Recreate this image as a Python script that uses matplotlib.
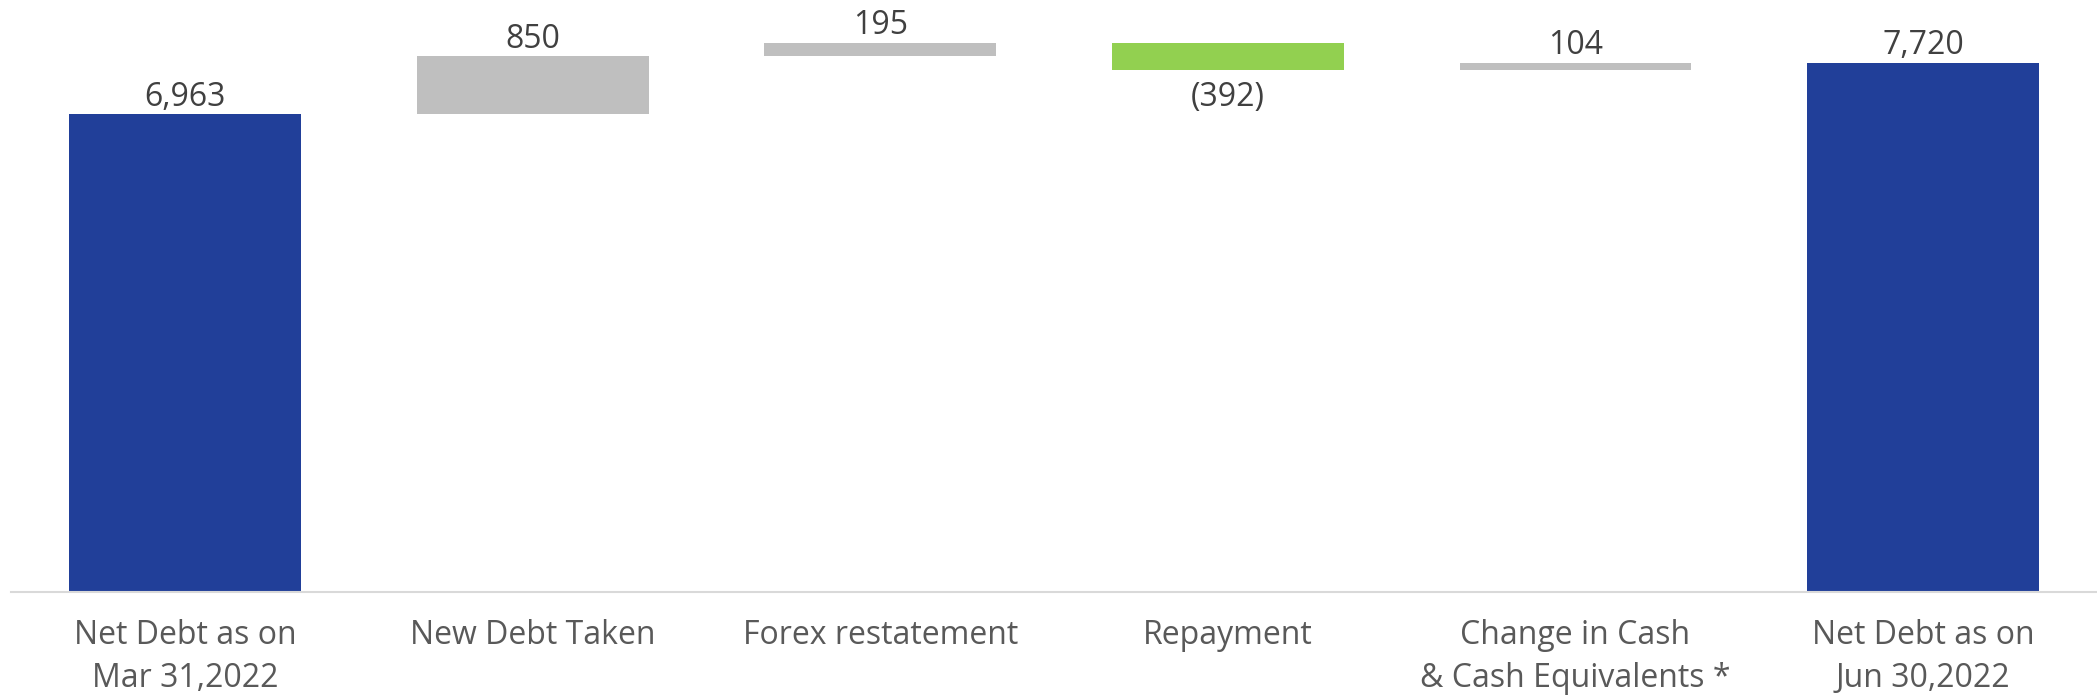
import matplotlib
matplotlib.use("Agg")
import matplotlib.pyplot as plt
import numpy as np

plt.rcParams['font.family'] = ['Open Sans', 'DejaVu Sans']

# Data
categories = ["Net Debt as on\nMar 31,2022", "New Debt Taken", "Forex restatement",
              "Repayment", "Change in Cash\n& Cash Equivalents *", "Net Debt as on\nJun 30,2022"]
opening = 6963
changes = [850, 195, -392, 104]
closing = 7720

BLUE = "#213F99"
GRAY = "#BFBFBF"
GREEN = "#92D050"

# Build waterfall bottoms/heights
heights = [opening]
bottoms = [0]
colors = [BLUE]
running = opening
for c in changes:
    if c >= 0:
        bottoms.append(running)
        heights.append(c)
        colors.append(GRAY)
    else:
        bottoms.append(running + c)
        heights.append(-c)
        colors.append(GREEN)
    running += c
heights.append(closing)
bottoms.append(0)
colors.append(BLUE)
values = [opening] + changes + [closing]

fig = plt.figure(figsize=(20.97, 7), dpi=100)
ax = fig.add_axes([11.2 / 2097, 108.3 / 700, (2097 - 11.2) / 2097, 591.7 / 700])

x = np.arange(len(categories))
ax.bar(x, heights, bottom=bottoms, width=0.667, color=colors, zorder=2)

for xi, v, b, h in zip(x, values, bottoms, heights):
    if v >= 0:
        ax.annotate(f"{v:,}", (xi, b + h), xytext=(0, 6), textcoords="offset points",
                    ha="center", va="baseline", fontsize=23, color="#404040")
    else:
        ax.annotate(f"({-v:,})", (xi, b), xytext=(0, -8), textcoords="offset points",
                    ha="center", va="top", fontsize=23, color="#404040")

ax.set_xlim(-0.5, len(categories) - 0.5)
ax.set_ylim(0, 8632)
ax.set_xticks(x)
ax.set_xticklabels(categories, fontsize=23, color="#595959", linespacing=1.38)
ax.tick_params(axis="x", length=0, pad=20)
ax.set_yticks([])
for s in ["top", "right", "left"]:
    ax.spines[s].set_visible(False)
ax.spines["bottom"].set_color("#D9D9D9")
ax.spines["bottom"].set_linewidth(1.5)

fig.savefig("out.png", dpi=100)
